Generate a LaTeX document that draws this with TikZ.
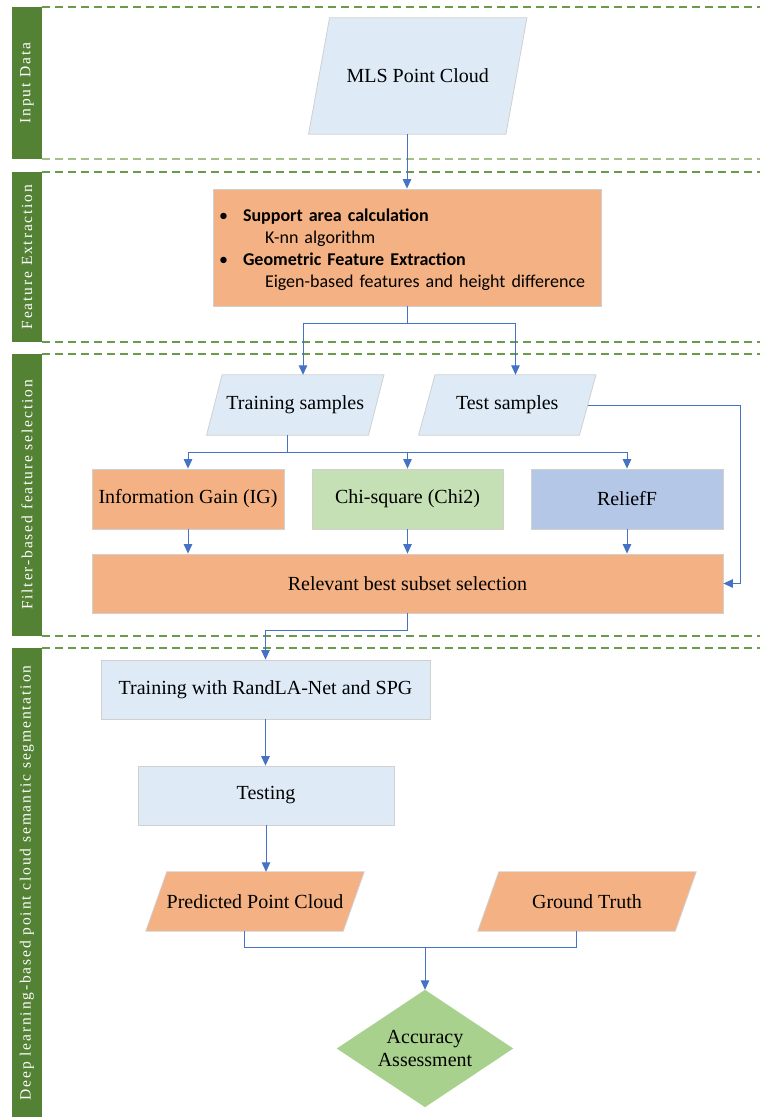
\documentclass[tikz,border=0pt]{standalone}
\usepackage{fontspec}
\setmainfont{Liberation Serif}
\newfontfamily\calibrifont{Carlito}
\newfontfamily\barfont[LetterSpace=12]{Liberation Serif}
\usetikzlibrary{arrows.meta,backgrounds,calc}

\definecolor{bargreen}{HTML}{548235}
\definecolor{dashdark}{HTML}{6A9A4C}
\definecolor{dashlight}{HTML}{A3C08B}
\definecolor{lightblue}{HTML}{DEEBF7}
\definecolor{peach}{HTML}{F4B183}
\definecolor{palegreen}{HTML}{C5E0B4}
\definecolor{paleblue}{HTML}{B4C7E7}
\definecolor{midgreen}{HTML}{A9D18E}
\definecolor{edgegray}{HTML}{D0D0D0}
\definecolor{flowblue}{HTML}{4472C4}

\tikzset{
  mainfont/.style={font=\fontsize{20pt}{22.5pt}\selectfont},
  box/.style={draw=edgegray, line width=0.8pt, minimum height=59pt, inner sep=0pt, align=center, mainfont},
  pgtext/.style={inner sep=0pt, align=center, mainfont},
  pgshape/.style={fill=#1, draw=edgegray, line width=0.8pt},
  flow/.style={draw=flowblue, line width=1pt},
  arr/.style={flow, -{Triangle[length=9.5pt,width=8.5pt]}},
  band/.style={fill=bargreen},
  sep/.style={draw=dashdark, line width=1.3pt, dash pattern=on 8pt off 5pt},
  seplight/.style={sep, draw=dashlight},
  barlabel/.style={rotate=90, text=white, inner sep=0pt, font=\barfont\fontsize{15.5pt}{17pt}\selectfont}
}

% slanted (data) box drawn behind a text node: node, horizontal offset, fill colour
\newcommand{\slantbox}[3]{%
  \begin{pgfonlayer}{background}
    \filldraw[pgshape=#3] ([xshift=#2/2]#1.north west) -- ([xshift=#2/2]#1.north east)
      -- ([xshift=-#2/2]#1.south east) -- ([xshift=-#2/2]#1.south west) -- cycle;
  \end{pgfonlayer}}

\begin{document}
\begin{tikzpicture}[x=1pt, y=-1pt]
\useasboundingbox (0,0) rectangle (760,1117);

% ---- section bands and separators ----
\fill[band] (12,7) rectangle (42,159);
\fill[band] (12,172) rectangle (42,342);
\fill[band] (12,354) rectangle (42,636);
\fill[band] (12,648) rectangle (42,1117);

\draw[sep] (42,7) -- (760,7);
\draw[seplight] (42,159) -- (760,159);
\draw[sep] (42,172) -- (760,172);
\draw[sep] (42,342) -- (760,342);
\draw[sep] (42,354) -- (760,354);
\draw[sep] (42,636) -- (760,636);
\draw[sep] (42,648) -- (760,648);

\node[barlabel] (lab1) at (27,83) {Input Data};
\node[barlabel] (lab2) at (27,257) {Feature Extraction};
\node[barlabel] (lab3) at (27,495) {Filter-based feature selection};
\node[barlabel] (lab4) at (27,883) {Deep learning-based point cloud semantic segmentation};

% ---- input ----
\node[pgtext, minimum width=197pt, minimum height=116pt] (mls) at (417.75,76) {MLS Point Cloud};
\slantbox{mls}{21}{lightblue}

% ---- feature extraction ----
\node[box, fill=peach, minimum width=388pt, minimum height=117pt, text width=380pt, align=left,
      font=\calibrifont\fontsize{18pt}{22.3pt}\selectfont] (feat) at (407,247.5)
  {\rule{0pt}{17pt}\makebox[26pt][l]{\hspace{2pt}\textbullet}\textbf{Support area calculation}\\
   \hspace*{48pt}K-nn algorithm\\
   \makebox[26pt][l]{\hspace{2pt}\textbullet}\textbf{Geometric Feature Extraction}\\
   \hspace*{48pt}Eigen-based features and height difference};

% ---- filter-based selection ----
\node[pgtext, minimum width=161.5pt, minimum height=60pt] (train) at (295.25,405) {Training samples};
\slantbox{train}{15.5}{lightblue}
\node[pgtext, minimum width=160.5pt, minimum height=60pt] (test) at (507.25,405) {Test samples};
\slantbox{test}{16.5}{lightblue}

\node[box, fill=peach, minimum width=192pt, minimum height=60pt] (ig) at (188,499) {Information Gain (IG)};
\node[box, fill=palegreen, minimum width=191pt, minimum height=60pt] (chi) at (407.5,499) {Chi-square (Chi2)};
\node[box, fill=paleblue, minimum width=192pt, minimum height=60pt] (relief) at (627,499) {ReliefF};
\node[box, fill=peach, minimum width=631pt] (rel) at (407.5,583.5) {Relevant best subset selection};

% ---- deep learning ----
\node[box, fill=lightblue, minimum width=329pt] (rl) at (265.5,689.5) {Training with RandLA-Net and SPG};
\node[box, fill=lightblue, minimum width=256pt] (tst) at (266,795.5) {Testing};

\node[pgtext, minimum width=197pt, minimum height=59pt] (pred) at (255,901.5) {Predicted Point Cloud};
\slantbox{pred}{21}{peach}
\node[pgtext, minimum width=197pt, minimum height=59pt] (gt) at (587,901.5) {Ground Truth};
\slantbox{gt}{21}{peach}

\node[pgtext, minimum width=176pt, minimum height=117pt] (acc) at (425,1048.5) {Accuracy\\Assessment};
\begin{pgfonlayer}{background}
  \fill[midgreen] (acc.north) -- (acc.east) -- (acc.south) -- (acc.west) -- cycle;
\end{pgfonlayer}

% ---- connectors ----
\draw[arr] (mls.south -| feat.north) -- (feat.north);
\draw[arr] (feat.south) -- ++(0,17) -| ([xshift=7.75pt]train.north);
\draw[arr] (feat.south) -- ++(0,17) -| ([xshift=8.25pt]test.north);

\draw[arr] ([xshift=-7.75pt]train.south) -- ++(0,17) -| (ig.north);
\draw[arr] ([xshift=-7.75pt]train.south) -- ++(0,17) -| (chi.north);
\draw[arr] ([xshift=-7.75pt]train.south) -- ++(0,17) -| (relief.north);

\draw[arr] (ig.south) -- (ig.south |- rel.north);
\draw[arr] (chi.south) -- (chi.south |- rel.north);
\draw[arr] (relief.south) -- (relief.south |- rel.north);
\draw[arr] (test.east) -- ++(152.5,0) |- (rel.east);

\draw[arr] (rel.south) -- ++(0,17) -| (rl.north);
\draw[arr] (rl.south) -- (rl.south |- tst.north);
\draw[arr] (tst.south) -- (tst.south |- pred.north);

\coordinate (join) at ($(acc.north)+(0,-42)$);
\draw[flow] ([xshift=-10.5pt]pred.south) |- (join) -| ([xshift=-10.5pt]gt.south);
\draw[arr] (join) -- (acc.north);
\end{tikzpicture}
\end{document}
